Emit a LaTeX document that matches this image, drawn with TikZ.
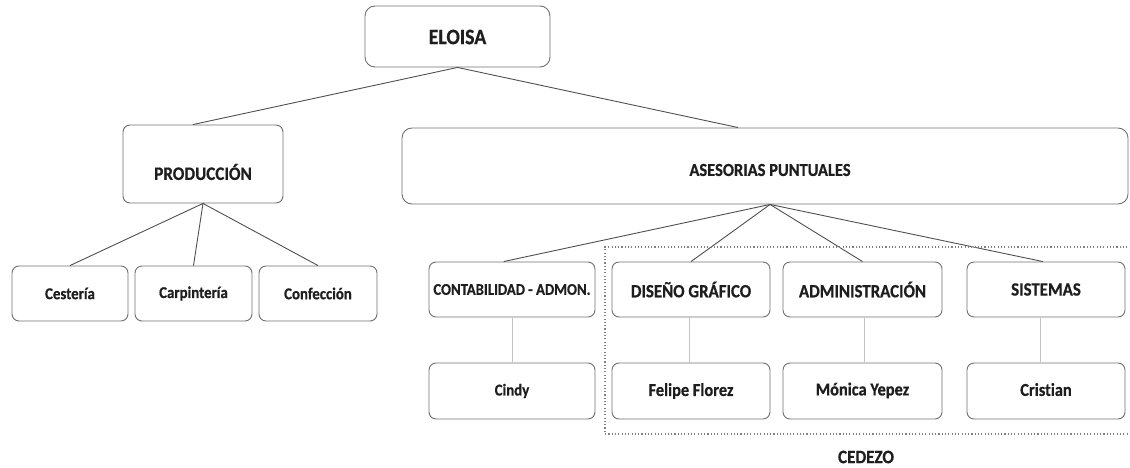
\documentclass[tikz,border=0pt]{standalone}
\usepackage{fontspec}
\setmainfont{Carlito}[FakeStretch=0.9, Ligatures=NoCommon, BoldFeatures={FakeBold=0.6}]
\usetikzlibrary{calc}
\definecolor{boxline}{HTML}{707070}
\definecolor{conn}{HTML}{505050}
\definecolor{vline}{HTML}{C4C4C4}
\definecolor{txt}{HTML}{1E1E1E}
\definecolor{dots}{HTML}{808080}
\tikzset{
  orgbox/.style={draw=boxline, line width=0.9pt, rounded corners=7pt, fill=white,
    inner sep=0pt, text=txt, font=\bfseries, align=center},
  conline/.style={draw=conn, line width=0.9pt},
  subline/.style={draw=vline, line width=0.8pt},
  fs/.style={font=\fontsize{#1}{#1}\selectfont\bfseries},
}
\begin{document}
\begin{tikzpicture}[x=1pt,y=-1pt]
\useasboundingbox (0,0) rectangle (1130,468);
\clip (0,0) rectangle (1130,468);
% top level
\node[orgbox, rounded corners=10pt, minimum width=185pt, minimum height=61pt] (eloisa) at (457.5,36.5) {};
\node[text=txt, fs=22] (eloisaT) at (457.5,37) {ELOISA};
\node[orgbox, minimum width=160pt, minimum height=78pt] (prod) at (203,164) {};
\node[text=txt, fs=19] (prodT) at (203,172) {PRODUCCIÓN};
\node[orgbox, rounded corners=10pt, minimum width=726pt, minimum height=76pt] (ases) at (765,166) {};
\node[text=txt, fs=18.3] (asesT) at (770,170) {ASESORIAS PUNTUALES};
% production children
\node[orgbox, minimum width=116pt, minimum height=55pt, fs=16.5] (ces) at (70,293.5) {Cestería};
\node[orgbox, minimum width=117pt, minimum height=55pt, fs=16.5] (car) at (193.5,293.5) {Carpintería};
\node[orgbox, minimum width=118pt, minimum height=55pt, fs=16.5] (con) at (318,293.5) {Confección};
% asesorias children
\node[orgbox, minimum width=166pt, minimum height=55pt, fs=16.3] (cont) at (512,289.5) {CONTABILIDAD - ADMON.};
\node[orgbox, minimum width=158pt, minimum height=55pt, fs=18.7] (dis) at (691,289.5) {DISEÑO GRÁFICO};
\node[orgbox, minimum width=159pt, minimum height=55pt, fs=18.7] (adm) at (862.5,289.5) {ADMINISTRACIÓN};
\node[orgbox, minimum width=158pt, minimum height=55pt, fs=18.7] (sis) at (1046,289.5) {SISTEMAS};
% people
\node[orgbox, minimum width=166pt, minimum height=56pt, fs=16.5] (cindy) at (512,391) {Cindy};
\node[orgbox, minimum width=158pt, minimum height=56pt, fs=18.2] (fel) at (691,391) {\raisebox{2pt}{Felipe Florez}};
\node[orgbox, minimum width=159pt, minimum height=56pt, fs=18.2] (mon) at (862.5,391) {\raisebox{4pt}{Mónica Yepez}};
\node[orgbox, minimum width=158pt, minimum height=56pt, fs=18.2] (cri) at (1046,391) {\raisebox{3pt}{Cristian}};
% connectors
\coordinate (eapex) at (eloisa.south);
\draw[conline] ($(prod.north west)!0.4375!(prod.north east)$) -- (eapex) -- ($(ases.north west)!0.463!(ases.north east)$);
\draw[conline] (ces.north) -- (prod.south) -- (car.north);
\draw[conline] (prod.south) -- (con.north);
\coordinate (aapex) at ($(ases.south west)!0.507!(ases.south east)$);
\draw[conline] ($(cont.north west)!0.45!(cont.north east)$) -- (aapex);
\draw[conline] (dis.north) -- (aapex) -- (adm.north);
\draw[conline] ($(sis.north west)!0.48!(sis.north east)$) -- (aapex);
\draw[subline] (cont.south) -- (cindy.north);
\draw[subline] ($(dis.south)+(-2,0)$) -- ($(fel.north)+(-2,0)$);
\draw[subline] ($(adm.south)+(1.5,0)$) -- ($(mon.north)+(1.5,0)$);
\draw[subline] ($(sis.south)+(-6,0)$) -- ($(cri.north)+(-6,0)$);
% CEDEZO group
\coordinate (gtr) at (1134,247);
\coordinate (gtl) at (605,247);
\coordinate (gbl) at (605,434);
\coordinate (gbr) at (1134,434);
\draw[dots, line width=1.1pt, dash pattern=on 1.1pt off 2.2pt] (gtr) -- (gtl) -- (gbl) -- (gbr);
\node[text=txt, fs=19, inner sep=0pt] (cedezo) at (866,457) {CEDEZO};
\end{tikzpicture}
\end{document}
